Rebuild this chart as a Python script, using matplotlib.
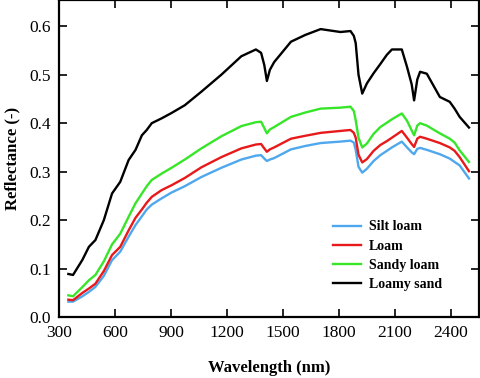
import matplotlib
matplotlib.use("Agg")
import matplotlib.pyplot as plt

# wavelength (nm) and reflectance
wavelength = [350, 375, 425, 460, 495, 540, 584, 628, 673, 710, 744, 770, 797, 850,
              903, 974, 1063, 1170, 1277, 1355, 1383, 1400, 1414, 1430, 1453, 1543,
              1620, 1702, 1808, 1862, 1880, 1890, 1905, 1925, 1950, 1986, 2022, 2057,
              2084, 2137, 2165, 2190, 2203, 2220, 2235, 2271, 2341, 2394, 2420, 2447,
              2497]

silt_loam = [0.032, 0.032, 0.043, 0.052, 0.0625, 0.085, 0.1175, 0.135, 0.166, 0.19,
             0.208, 0.222, 0.232, 0.245, 0.257, 0.27, 0.289, 0.308, 0.325, 0.333,
             0.334, 0.327, 0.322, 0.325, 0.328, 0.346, 0.353, 0.359, 0.362, 0.364,
             0.36, 0.345, 0.31, 0.298, 0.306, 0.322, 0.334, 0.343, 0.35, 0.362, 0.35,
             0.34, 0.336, 0.347, 0.349, 0.345, 0.336, 0.327, 0.32, 0.313, 0.286]

loam = [0.036, 0.035, 0.05, 0.059, 0.069, 0.095, 0.128, 0.145, 0.179, 0.205, 0.222,
        0.236, 0.248, 0.262, 0.272, 0.287, 0.309, 0.33, 0.348, 0.356, 0.357, 0.348,
        0.341, 0.346, 0.35, 0.368, 0.374, 0.38, 0.384, 0.386, 0.38, 0.37, 0.335,
        0.319, 0.326, 0.343, 0.355, 0.363, 0.37, 0.384, 0.37, 0.357, 0.351, 0.368,
        0.372, 0.368, 0.359, 0.35, 0.343, 0.33, 0.301]

sandy_loam = [0.045, 0.043, 0.062, 0.076, 0.087, 0.115, 0.15, 0.172, 0.207, 0.235,
              0.255, 0.27, 0.283, 0.296, 0.308, 0.325, 0.348, 0.373, 0.394, 0.402,
              0.403, 0.39, 0.379, 0.387, 0.392, 0.413, 0.422, 0.43, 0.432, 0.434,
              0.425, 0.406, 0.37, 0.35, 0.358, 0.378, 0.392, 0.401, 0.408, 0.42,
              0.405, 0.385, 0.375, 0.395, 0.40, 0.395, 0.379, 0.368, 0.36, 0.344,
              0.32]

loamy_sand = [0.089, 0.087, 0.118, 0.145, 0.159, 0.20, 0.255, 0.279, 0.324, 0.345,
              0.375, 0.386, 0.40, 0.41, 0.421, 0.437, 0.465, 0.50, 0.538, 0.552,
              0.545, 0.52, 0.487, 0.51, 0.526, 0.568, 0.582, 0.594, 0.588, 0.59,
              0.58, 0.565, 0.50, 0.461, 0.482, 0.503, 0.522, 0.541, 0.552, 0.552,
              0.516, 0.48, 0.447, 0.49, 0.506, 0.502, 0.454, 0.444, 0.43, 0.413,
              0.391]

plt.rcParams['font.family'] = ['Liberation Serif', 'DejaVu Serif']

fig = plt.figure(figsize=(4.8, 3.78), dpi=100)
ax = fig.add_axes([0.123, 0.161, 0.875, 0.839])

ax.plot(wavelength, silt_loam, color='#4fa8ee', lw=1.7, label='Silt loam')
ax.plot(wavelength, loam, color='#e8191b', lw=1.7, label='Loam')
ax.plot(wavelength, sandy_loam, color='#37e629', lw=1.7, label='Sandy loam')
ax.plot(wavelength, loamy_sand, color='black', lw=1.7, label='Loamy sand')

ax.set_xlim(312, 2551)
ax.set_ylim(0, 0.654)
ax.set_xticks([300, 600, 900, 1200, 1500, 1800, 2100, 2400])
ax.set_yticks([0.0, 0.1, 0.2, 0.3, 0.4, 0.5, 0.6])
ax.set_yticklabels(['0.0', '0.1', '0.2', '0.3', '0.4', '0.5', '0.6'])
ax.tick_params(direction='in', length=6, width=1.2, top=True, right=True,
               labelsize=12.5, pad=6)
for s in ax.spines.values():
    s.set_linewidth(1.6)

ax.set_xlabel('Wavelength (nm)', fontsize=12, fontweight='bold', labelpad=13)
ax.set_ylabel('Reflectance (-)', fontsize=12, fontweight='bold', labelpad=6)

leg = ax.legend(loc='upper left', bbox_to_anchor=(0.652, 0.305), frameon=False,
                borderpad=0, borderaxespad=0, handlelength=2.0, handletextpad=0.6,
                labelspacing=0.45, prop={'weight': 'bold', 'size': 10})

fig.savefig('out.png', dpi=100)
